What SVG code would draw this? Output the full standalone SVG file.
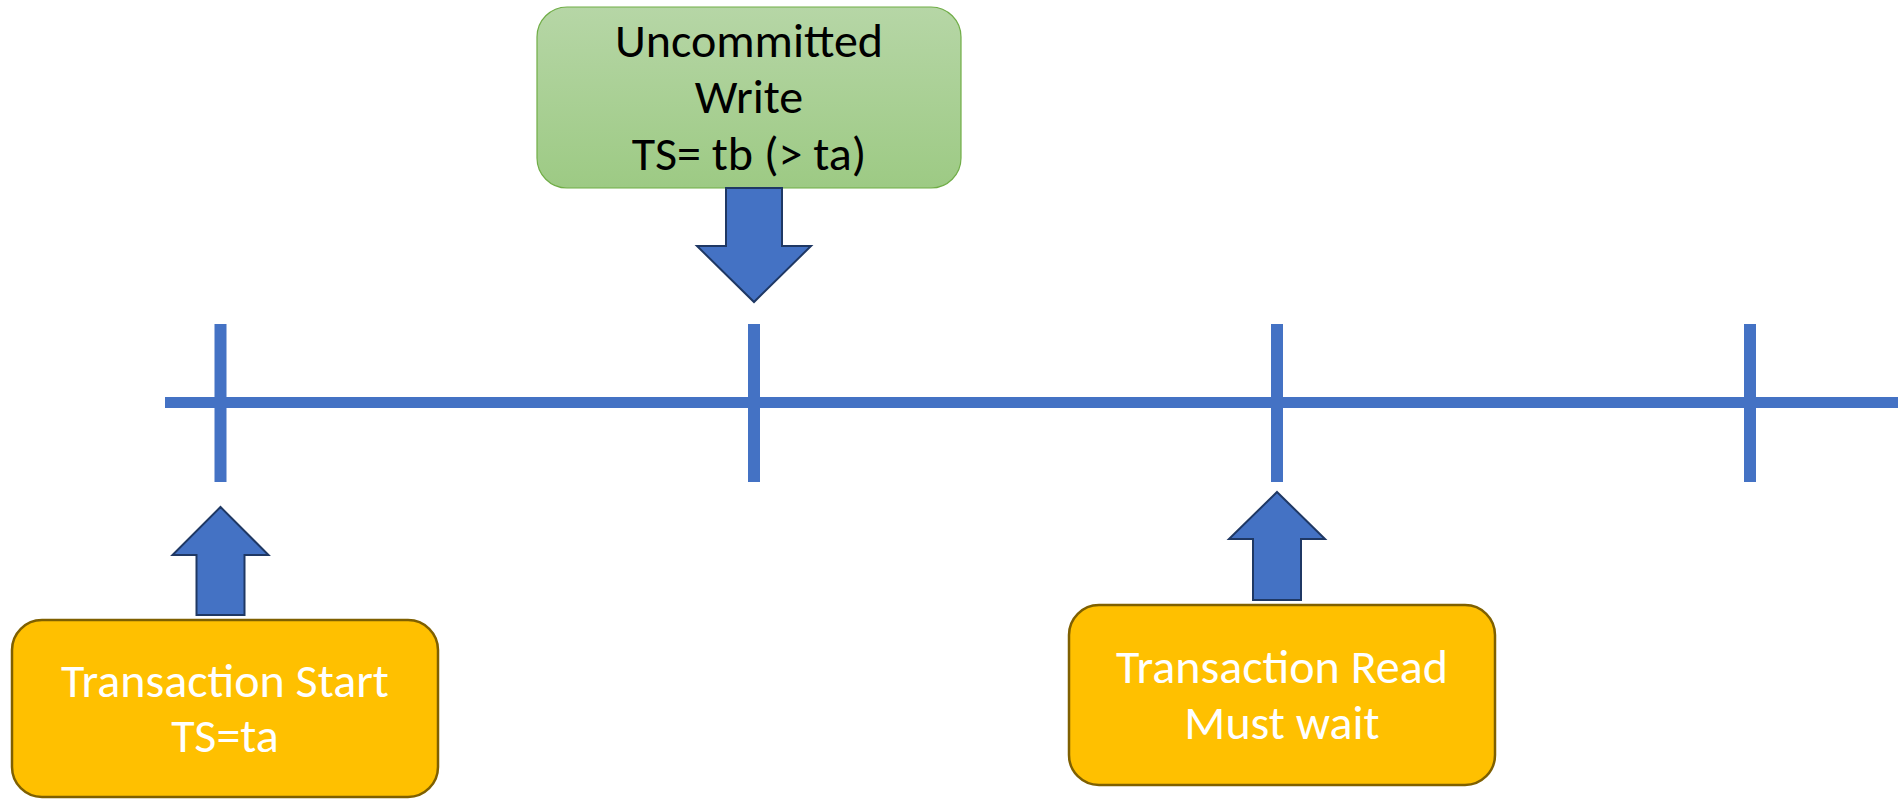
<svg xmlns="http://www.w3.org/2000/svg" width="1898" height="799" viewBox="0 0 1898 799">
  <defs>
    <linearGradient id="greenFill" x1="0" y1="0" x2="0" y2="1">
      <stop offset="0" stop-color="#b6d6a6"/>
      <stop offset="1" stop-color="#9dca84"/>
    </linearGradient>
  </defs>
  <style>
    .axis { fill: #4472c4; }
    .block-arrow { fill: #4472c4; stroke: #1f3864; stroke-width: 2; stroke-linejoin: miter; }
    .note { fill: url(#greenFill); stroke: #70ad47; stroke-width: 1.2; }
    .event { fill: #ffc000; stroke: #7f6000; stroke-width: 2.5; }
    .label { font-family: Carlito, Calibri, "Liberation Sans", sans-serif; font-size: 48px; text-anchor: middle; }
    .dark { fill: #000000; }
    .light { fill: #ffffff; }
  </style>

  <!-- time axis with tick marks -->
  <g id="timeline">
    <rect class="axis" x="165" y="397" width="1733" height="11"/>
    <rect class="axis" x="214.5" y="324" width="12" height="158"/>
    <rect class="axis" x="748" y="324" width="12" height="158"/>
    <rect class="axis" x="1271" y="324" width="12" height="158"/>
    <rect class="axis" x="1744" y="324" width="12" height="158"/>
  </g>

  <g id="uncommitted-write">
    <rect class="note" x="537" y="7" width="424" height="181" rx="30" ry="30"/>
    <text class="label dark" x="749" y="57">Uncommitted</text>
    <text class="label dark" x="749" y="113">Write</text>
    <text class="label dark" x="749" y="170">TS= tb (&gt; ta)</text>
  </g>

  <g id="transaction-start">
    <rect class="event" x="12" y="620" width="426" height="177" rx="30" ry="30"/>
    <text class="label light" x="225" y="697">Transaction Start</text>
    <text class="label light" x="225" y="752">TS=ta</text>
  </g>

  <g id="transaction-read">
    <rect class="event" x="1069" y="605" width="426" height="180" rx="30" ry="30"/>
    <text class="label light" x="1282" y="683">Transaction Read</text>
    <text class="label light" x="1282" y="739">Must wait</text>
  </g>

  <!-- block arrows pointing at the axis -->
  <g id="connectors">
    <path class="block-arrow" d="M726,188 L782,188 L782,246 L811,246 L754,302 L697,246 L726,246 Z"/>
    <path class="block-arrow" d="M220.5,507 L268.5,555 L244.5,555 L244.5,615 L196.5,615 L196.5,555 L172.5,555 Z"/>
    <path class="block-arrow" d="M1277,492 L1325,539 L1301,539 L1301,600 L1253,600 L1253,539 L1229,539 Z"/>
  </g>
</svg>
